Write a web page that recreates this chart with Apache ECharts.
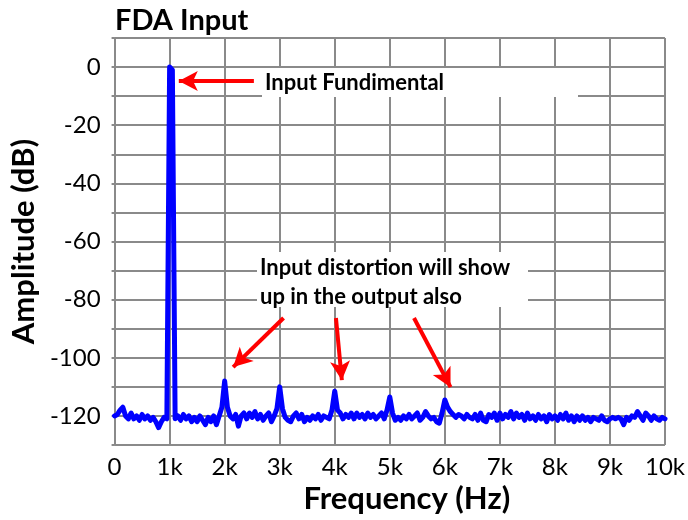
<!DOCTYPE html>
<html>
<head>
<meta charset="utf-8">
<script src="https://cdn.jsdelivr.net/npm/echarts@6/dist/echarts.min.js"></script>
<style>html,body{margin:0;padding:0;background:#fff;}#c{width:688px;height:520px;}</style>
</head>
<body>
<div id="c"></div>
<script>
var titleText = 'FDA Input';
var xAxisName = 'Frequency (Hz)';
var yAxisName = 'Amplitude (dB)';
var freqStep = 50; // Hz between samples, starting at 0
var xTicks = ['0','1k','2k','3k','4k','5k','6k','7k','8k','9k','10k'];
var yTicks = [0, -20, -40, -60, -80, -100, -120];

// amplitude (dB) every 50 Hz, 0 .. 10 kHz
var amp0to1k = [-120,-119.5,-118,-117,-120,-121,-119,-121,-120,-121.5,-119.5,-121,-120,-121.5,-120.5,-122,-124,-122,-120.5,-121,0];
var amp1to2k = [-1,-121,-120,-121.5,-119.5,-121,-120,-122,-120.5,-122,-120,-121.5,-123,-120.5,-122,-120,-123,-120,-117,-108];
var amp2to3k = [-117,-120,-121,-119.5,-123.5,-120,-119,-121,-119,-120.5,-118.5,-121,-119.5,-121.5,-120,-119,-122,-120,-117.5,-110];
var amp3to4k = [-117.5,-120.5,-121.5,-122,-120,-119,-121,-119.5,-122,-120.5,-121.5,-120,-121,-119.5,-121.5,-120,-120.5,-121,-118,-111.5];
var amp4to5k = [-118,-119,-121,-119.5,-120.5,-119,-121,-119,-120.5,-119.5,-121,-119,-120.5,-119.5,-121,-120,-119,-121,-118,-113.5];
var amp5to6k = [-119,-121.5,-120.5,-121.5,-120,-121,-119.5,-121,-120,-119,-121.5,-120.5,-118.5,-120,-121,-120.5,-122,-122.5,-119,-114.5];
var amp6to7k = [-117,-118.5,-119.5,-120.5,-119.5,-120,-121,-119.5,-120.5,-121,-119.5,-121.5,-119,-121.5,-122,-119.5,-120.5,-119,-121.5,-119];
var amp7to8k = [-121,-119.5,-120.5,-118.5,-121,-119,-120.5,-119.5,-121.5,-119,-121,-120,-121.5,-119.5,-121,-120,-122,-119.5,-121,-120];
var amp8to9k = [-121.5,-119.5,-121,-119,-121.5,-120,-122,-120,-121.5,-120,-121.5,-120.5,-122,-120.5,-121,-121.5,-120,-121.5,-122,-121];
var amp9to10k = [-120.5,-121,-120.5,-121,-123,-120.5,-121.5,-120,-120.5,-118.5,-120,-121.5,-119,-120,-121.5,-120,-121,-121.5,-120.5,-121];

// annotation arrows [tailFreq, tailDb, tipFreq, tipDb]
var arrows = [
  [2531, -4.8, 1167, -4.8],
  [3070, -86.3, 2154, -103.2],
  [4022, -86.3, 4129, -107.7],
  [5440, -86.3, 6104, -110.1]
];
var note1 = 'Input Fundimental';
var note2 = 'Input distortion will show\nup in the output also';

var amps = [].concat(amp0to1k, amp1to2k, amp2to3k, amp3to4k, amp4to5k, amp5to6k, amp6to7k, amp7to8k, amp8to9k, amp9to10k);
var data = amps.map(function (a, i) { return [i * freqStep, a]; });

var FONT = 'Lato, "Open Sans", sans-serif';
var GRID = '#8a8a8a';

var chart = echarts.init(document.getElementById('c'), null, {renderer: 'canvas'});
chart.setOption({
  animation: false,
  backgroundColor: '#fff',
  title: {
    text: titleText, left: 110, top: 1,
    textStyle: {fontFamily: FONT, fontWeight: 'bold', fontSize: 29, color: '#000'}
  },
  grid: {left: 112, right: 19, top: 38, bottom: 75, containLabel: false},
  xAxis: {
    type: 'value', min: 0, max: 10000, interval: 1000,
    name: xAxisName, nameLocation: 'middle', nameGap: 34,
    nameTextStyle: {fontFamily: FONT, fontWeight: 'bold', fontSize: 31, color: '#000', padding: [0, 0, 0, 34]},
    axisLine: {show: true, lineStyle: {color: GRID, width: 2}},
    axisTick: {show: true, length: 3, lineStyle: {color: GRID, width: 2}},
    axisLabel: {
      margin: 10, fontFamily: FONT, fontSize: 24, color: '#000',
      formatter: function (v) { return xTicks[Math.round(v / 1000)]; }
    },
    splitLine: {show: true, lineStyle: {color: GRID, width: 2}}
  },
  yAxis: {
    type: 'value', min: -130, max: 10, interval: 10,
    name: yAxisName, nameLocation: 'middle', nameGap: 68,
    nameTextStyle: {fontFamily: FONT, fontWeight: 'bold', fontSize: 31, color: '#000'},
    axisLine: {show: true, lineStyle: {color: GRID, width: 2}},
    axisTick: {show: true, length: 3, lineStyle: {color: GRID, width: 2}},
    axisLabel: {
      margin: 14, fontFamily: FONT, fontSize: 24, color: '#000',
      formatter: function (v) { return yTicks.indexOf(v) >= 0 ? String(v) : ''; }
    },
    splitLine: {show: true, lineStyle: {color: GRID, width: 2}}
  },
  series: [{
    type: 'line',
    data: data,
    showSymbol: false,
    symbol: 'none',
    lineStyle: {color: '#0000ff', width: 5, join: 'round', cap: 'round'},
    itemStyle: {color: '#0000ff'},
    z: 3,
    markLine: {
      silent: true,
      symbol: ['none', 'arrow'],
      symbolSize: [15, 19],
      label: {show: false},
      lineStyle: {color: '#ff0000', width: 4, type: 'solid'},
      itemStyle: {color: '#ff0000'},
      emphasis: {disabled: true},
      data: arrows.map(function (a) {
        return [{coord: [a[0], a[1]]}, {coord: [a[2], a[3]]}];
      }),
      z: 5
    }
  }],
  graphic: [
    {type: 'rect', z: 10, shape: {x: 262, y: 68, width: 316, height: 29}, style: {fill: '#fff'}},
    {type: 'text', z: 11, x: 265, y: 83, style: {text: note1, fontFamily: FONT, fontWeight: 'bold', fontSize: 22, fill: '#000', verticalAlign: 'middle', textVerticalAlign: 'middle'}},
    {type: 'rect', z: 10, shape: {x: 257, y: 252, width: 271, height: 55}, style: {fill: '#fff'}},
    {type: 'text', z: 11, x: 260, y: 253, style: {text: note2, fontFamily: FONT, fontWeight: 'bold', fontSize: 22, lineHeight: 29, fill: '#000', verticalAlign: 'top', textVerticalAlign: 'top'}}
  ]
});
</script>
</body>
</html>
